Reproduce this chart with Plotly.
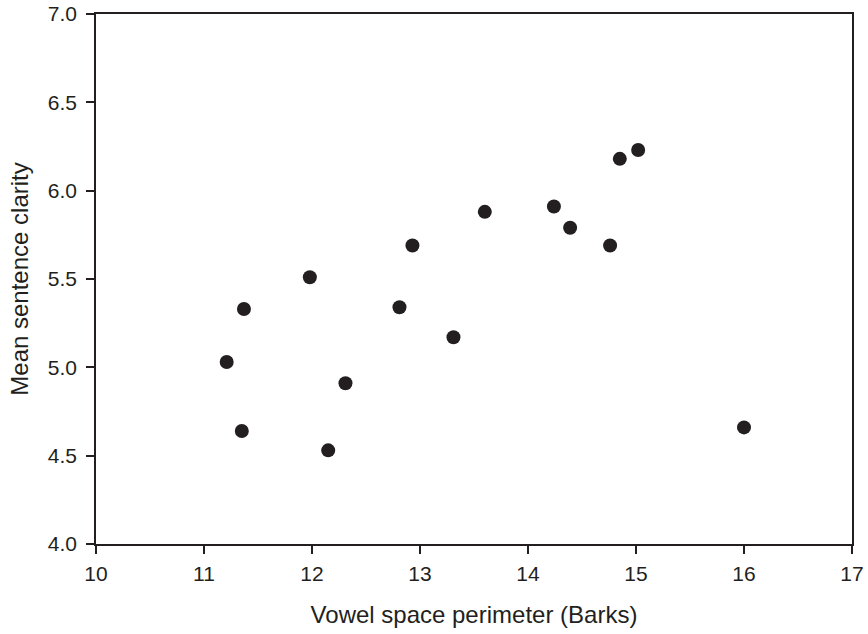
import plotly.graph_objects as go

# Data
vowel_space_perimeter = [11.21, 11.37, 11.35, 11.98, 12.15, 12.31, 12.81, 12.93,
                         13.31, 13.60, 14.24, 14.39, 14.76, 14.85, 15.02, 16.00]
mean_sentence_clarity = [5.03, 5.33, 4.64, 5.51, 4.53, 4.91, 5.34, 5.69,
                         5.17, 5.88, 5.91, 5.79, 5.69, 6.18, 6.23, 4.66]

x_ticks = [10, 11, 12, 13, 14, 15, 16, 17]
y_ticks = [4.0, 4.5, 5.0, 5.5, 6.0, 6.5, 7.0]

ink = "#231f20"
font_family = "Liberation Sans, Arial, Helvetica, sans-serif"

fig = go.Figure()
fig.add_trace(go.Scatter(
    x=vowel_space_perimeter,
    y=mean_sentence_clarity,
    mode="markers",
    marker=dict(size=14, color=ink, line=dict(width=0)),
    showlegend=False,
    hoverinfo="x+y",
))

axis_common = dict(
    showgrid=False,
    zeroline=False,
    showline=True,
    linecolor=ink,
    linewidth=1.5,
    mirror=True,
    ticks="outside",
    ticklen=8,
    tickwidth=1.5,
    tickcolor=ink,
    tickfont=dict(family=font_family, size=21, color=ink),
)

fig.update_xaxes(
    range=[10, 17],
    tickvals=x_ticks,
    ticktext=[str(v) for v in x_ticks],
    ticklabelstandoff=2,
    title=dict(text="Vowel space perimeter (Barks)",
               font=dict(family=font_family, size=24, color=ink),
               standoff=22),
    **axis_common,
)
fig.update_yaxes(
    range=[4, 7],
    tickvals=y_ticks,
    ticktext=[f"{v:.1f}" for v in y_ticks],
    ticklabelstandoff=5,
    title=dict(text="Mean sentence clarity",
               font=dict(family=font_family, size=24, color=ink),
               standoff=12),
    **axis_common,
)

fig.update_layout(
    width=868,
    height=634,
    margin=dict(l=96, r=16, t=14, b=90, autoexpand=False),
    paper_bgcolor="white",
    plot_bgcolor="white",
    font=dict(family=font_family, color=ink),
)

fig.write_html("out.html")
